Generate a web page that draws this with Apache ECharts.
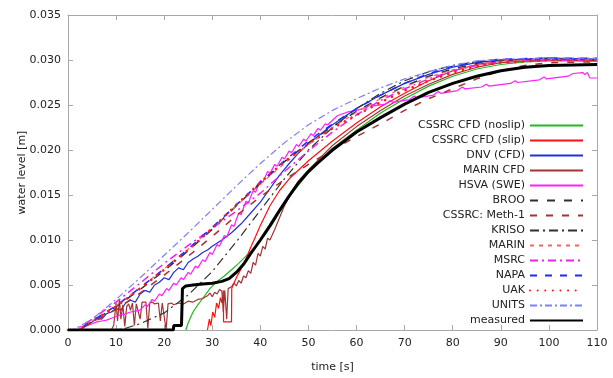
<!DOCTYPE html>
<html>
<head>
<meta charset="utf-8">
<script src="https://cdn.jsdelivr.net/npm/echarts@6/dist/echarts.min.js"></script>
<style>html,body{margin:0;padding:0;background:#fff}#c{width:613px;height:378px}</style>
</head>
<body>
<div id="c"></div>
<script>
// ---- data (time [s], water level [m]) ----
const xTicks = [0, 10, 20, 30, 40, 50, 60, 70, 80, 90, 100, 110];
const yTicks = [0, 0.005, 0.010, 0.015, 0.020, 0.025, 0.030, 0.035];

const cssrcNoslip = [[24.5,0],[25,0.0008],[26,0.0020],[27,0.0028],[28,0.0035],[29.5,0.0046],[31,0.0054],[32.5,0.0060],[34,0.0067],[35.5,0.0074],[37,0.0082],[39,0.0093],[41,0.0106],[43,0.0122],[45,0.0140],[47,0.0155],[50,0.0175],[55,0.0202],[60,0.0222],[65,0.0241],[70,0.0257],[75,0.0271],[80,0.0282],[85,0.0290],[90,0.0295],[95,0.0298],[100,0.0299],[110,0.0299]];

const cssrcSlip = [[29,0],[29.4,0.0012],[29.7,0.0005],[30.1,0.0020],[30.5,0.0014],[30.9,0.0030],[31.3,0.0024],[31.7,0.0036],[32,0.0030],[32.3,0.0044],[32.35,0.0009],[34.0,0.0009],[34.05,0.0046],[35,0.0058],[36,0.0068],[37,0.0079],[38,0.0092],[39,0.0104],[40,0.0116],[42,0.0138],[44,0.0155],[46,0.0168],[48,0.0178],[50,0.0188],[55,0.0210],[60,0.0230],[65,0.0248],[70,0.0263],[75,0.0277],[80,0.0288],[85,0.0295],[90,0.0299],[95,0.0301],[100,0.0302],[105,0.0301],[110,0.0300]];

const dnvCfd = [[0,0],[2.5,0],[4,0.0006],[5,0.0009],[6,0.0013],[7,0.0012],[8,0.0018],[9,0.0020],[10,0.0024],[11,0.0022],[12,0.0030],[13,0.0033],[14,0.0031],[15,0.0040],[16,0.0044],[17,0.0042],[18,0.0050],[19,0.0053],[20,0.0058],[21,0.0056],[22,0.0064],[23,0.0069],[24,0.0067],[25,0.0075],[26,0.0079],[27,0.0082],[28,0.0086],[29,0.0089],[30,0.0093],[32,0.0100],[34,0.0108],[36,0.0118],[38,0.0130],[40,0.0142],[42,0.0157],[44,0.0172],[46,0.0185],[48,0.0197],[50,0.0207],[55,0.0228],[60,0.0246],[65,0.0261],[70,0.0274],[75,0.0284],[80,0.0292],[85,0.0297],[90,0.0300],[100,0.0302],[110,0.0301]];

const marinCfd = [[0,0],[9,0],[9.5,0.0005],[10,0.0030],[10.3,0.0010],[10.7,0.0034],[11,0.0012],[11.4,0.0028],[11.8,0.0004],[12.2,0.0026],[12.6,0.0029],[13,0.0022],[13.4,0.0030],[13.8,0.0005],[14.2,0.0029],[14.6,0.0030],[15,0.0012],[15.4,0.0031],[15.8,0.0030],[16.2,0.0031],[16.6,0.0002],[17,0.0030],[17.5,0.0031],[18,0.0029],[18.4,0.0030],[18.8,0.0030],[19.2,0.0010],[19.6,0.0030],[20,0.0029],[20.4,0],[20.8,0.0029],[21.5,0.0030],[22,0.0028],[23,0.0030],[24,0.0029],[25,0.0032],[26,0.0031],[27,0.0034],[28,0.0035],[29,0.0038],[29.5,0.0041],[30,0.0037],[30.5,0.0042],[31,0.0040],[31.5,0.0045],[32,0.0043],[32.3,0.0020],[32.6,0.0044],[33,0.0012],[33.3,0.0046],[34,0.0048],[34.5,0.0052],[35,0.0049],[35.5,0.0055],[36,0.0052],[36.5,0.0060],[37,0.0058],[37.5,0.0066],[38,0.0063],[38.5,0.0075],[39,0.0072],[39.5,0.0085],[40,0.0082],[40.5,0.0093],[41,0.0090],[41.5,0.0102],[42,0.0100],[43,0.0112],[44,0.0125],[45,0.0138],[46,0.0148],[47,0.0158],[48,0.0166],[50,0.0178],[55,0.0205],[60,0.0226],[65,0.0244],[70,0.0260],[75,0.0273],[80,0.0284],[85,0.0292],[90,0.0297],[95,0.0299],[100,0.0300],[110,0.0299]];

const hsvaSwe = [[0,0],[2,0],[3,0.0002],[4,0.0005],[5,0.0007],[6,0.0009],[7,0.0010],[8,0.0011],[9,0.0013],[10,0.0015],[11,0.0017],[12,0.0018],[13,0.0020],[14,0.0021],[15,0.0022],[16,0.0028],[16.5,0.0026],[17.5,0.0034],[18,0.0032],[19,0.0040],[19.5,0.0038],[20.5,0.0046],[21,0.0044],[22,0.0052],[22.5,0.0050],[23.5,0.0058],[24,0.0056],[25,0.0064],[25.5,0.0062],[26.5,0.0071],[27,0.0069],[28,0.0078],[28.5,0.0076],[29.5,0.0086],[30,0.0084],[31,0.0095],[31.5,0.0093],[32.5,0.0105],[33,0.0103],[34,0.0117],[34.5,0.0115],[35.5,0.0130],[36,0.0128],[37,0.0143],[37.5,0.0141],[38.5,0.0155],[39,0.0153],[40,0.0166],[40.5,0.0164],[41.5,0.0176],[42,0.0174],[43,0.0184],[43.5,0.0182],[44.5,0.0192],[45,0.0190],[46,0.0199],[46.5,0.0197],[47.5,0.0206],[48,0.0204],[49,0.0212],[49.5,0.0210],[50.5,0.0218],[51,0.0216],[52,0.0224],[52.5,0.0222],[53.5,0.0229],[54,0.0228],[55,0.0233],[56,0.0238],[57,0.0240],[58,0.0242],[60,0.0244],[62,0.0247],[63,0.0251],[63.5,0.0249],[66,0.0251],[67,0.0255],[67.5,0.0253],[71,0.0256],[72,0.0260],[72.5,0.0258],[76,0.0261],[77,0.0265],[77.5,0.0263],[81,0.0266],[82,0.0270],[82.5,0.0268],[86,0.0270],[87,0.0273],[87.5,0.0271],[92,0.0274],[93,0.0277],[93.5,0.0275],[98,0.0278],[99,0.0281],[99.5,0.0279],[104,0.0282],[105,0.0285],[107,0.0286],[107.5,0.0284],[108,0.0286],[108.5,0.0280],[110,0.0280]];

const broo = [[0,0],[2,0],[5,0.0009],[10,0.0026],[15,0.0045],[20,0.0066],[25,0.0088],[30,0.0112],[35,0.0138],[40,0.0163],[45,0.0187],[50,0.0208],[55,0.0226],[60,0.0243],[65,0.0258],[70,0.0271],[75,0.0282],[80,0.0290],[85,0.0296],[90,0.0299],[100,0.0301],[110,0.0300]];

const cssrcMeth1 = [[0,0],[2,0],[5,0.0008],[10,0.0023],[15,0.0041],[20,0.0061],[25,0.0082],[30,0.0104],[35,0.0127],[40,0.0148],[45,0.0167],[50,0.0184],[55,0.0200],[60,0.0215],[65,0.0229],[70,0.0244],[75,0.0257],[80,0.0268],[85,0.0279],[90,0.0288],[95,0.0294],[100,0.0297],[110,0.0298]];

const kriso = [[0,0],[10,0],[12,0.0002],[15,0.0007],[20,0.0019],[25,0.0039],[30,0.0065],[35,0.0098],[40,0.0133],[45,0.0168],[50,0.0200],[55,0.0225],[60,0.0246],[65,0.0263],[70,0.0277],[75,0.0287],[80,0.0294],[85,0.0298],[90,0.0300],[100,0.0301],[110,0.0300]];

const marin = [[0,0],[2,0],[5,0.0010],[10,0.0027],[15,0.0047],[20,0.0068],[25,0.0090],[30,0.0113],[35,0.0138],[40,0.0162],[45,0.0185],[50,0.0206],[55,0.0225],[60,0.0242],[65,0.0257],[70,0.0270],[75,0.0281],[80,0.0289],[85,0.0295],[90,0.0299],[100,0.0301],[110,0.0300]];

const msrc = [[0,0],[1.5,0],[5,0.0012],[10,0.0031],[15,0.0052],[20,0.0074],[25,0.0094],[30,0.0113],[35,0.0132],[40,0.0152],[45,0.0176],[50,0.0199],[55,0.0220],[60,0.0239],[65,0.0255],[70,0.0268],[75,0.0279],[80,0.0288],[85,0.0294],[90,0.0298],[100,0.0300],[110,0.0299]];

const napa = [[0,0],[2,0],[5,0.0010],[10,0.0027],[15,0.0047],[20,0.0068],[25,0.0090],[30,0.0114],[35,0.0139],[40,0.0164],[45,0.0188],[50,0.0210],[55,0.0229],[60,0.0246],[65,0.0261],[70,0.0274],[75,0.0285],[80,0.0293],[85,0.0298],[90,0.0301],[100,0.0302],[110,0.0302]];

const uak = [[0,0],[2,0],[5,0.0009],[10,0.0026],[15,0.0046],[20,0.0067],[25,0.0089],[30,0.0113],[35,0.0139],[40,0.0164],[45,0.0187],[50,0.0207],[55,0.0224],[60,0.0239],[65,0.0253],[70,0.0266],[75,0.0277],[80,0.0286],[85,0.0293],[90,0.0297],[100,0.0300],[110,0.0300]];

const units = [[0,0],[1,0],[5,0.0012],[10,0.0034],[15,0.0058],[20,0.0083],[25,0.0108],[30,0.0134],[35,0.0160],[40,0.0185],[45,0.0208],[50,0.0228],[55,0.0244],[60,0.0257],[65,0.0269],[70,0.0279],[75,0.0287],[80,0.0294],[85,0.0299],[90,0.0301],[100,0.0302],[110,0.0302]];

const measured = [[0,0],[21.9,0],[22.0,0.0005],[23.6,0.0005],[23.8,0.0046],[24.5,0.0049],[26,0.0050],[28,0.0051],[30,0.0052],[32,0.0054],[33.5,0.0057],[35,0.0064],[36.5,0.0073],[38,0.0085],[40,0.0100],[42,0.0116],[44,0.0133],[46,0.0149],[48,0.0164],[50,0.0176],[52,0.0186],[55,0.0200],[60,0.0220],[65,0.0236],[70,0.0251],[75,0.0264],[80,0.0274],[85,0.0282],[90,0.0288],[95,0.0292],[100,0.0294],[110,0.0295]];

// ---- series descriptions ----
const seriesDefs = [
  {name: 'CSSRC CFD (noslip)', data: cssrcNoslip, color: '#22b822', width: 1.2, type: 'solid'},
  {name: 'CSSRC CFD (slip)', data: cssrcSlip, color: '#ff1010', width: 1.2, type: 'solid'},
  {name: 'DNV (CFD)', data: dnvCfd, color: '#2030e0', width: 1.2, type: 'solid'},
  {name: 'MARIN CFD', data: marinCfd, color: '#a83232', width: 1.2, type: 'solid'},
  {name: 'HSVA (SWE)', data: hsvaSwe, color: '#ff20ff', width: 1.2, type: 'solid'},
  {name: 'BROO', data: broo, color: '#303030', width: 1.5, type: [8, 9]},
  {name: 'CSSRC: Meth-1', data: cssrcMeth1, color: '#a83232', width: 1.5, type: [7, 9]},
  {name: 'KRISO', data: kriso, color: '#303030', width: 1.2, type: [9, 4, 2, 4]},
  {name: 'MARIN', data: marin, color: '#ff6060', width: 1.2, type: [4, 5]},
  {name: 'MSRC', data: msrc, color: '#ee22ee', width: 1.5, type: [8, 4, 2, 4]},
  {name: 'NAPA', data: napa, color: '#1a2cff', width: 1.5, type: [7, 8]},
  {name: 'UAK', data: uak, color: '#ff1a1a', width: 2.6, type: [0.1, 7.5], cap: 'round'},
  {name: 'UNITS', data: units, color: '#8080ff', width: 1.2, type: [7, 3, 2, 3]},
  {name: 'measured', data: measured, color: '#000000', width: 3, type: 'solid'}
];

const axisGray = '#a8a8a8';
const font = 'DejaVu Sans';

function mkX(pos, show) {
  return {
    type: 'value', position: pos, min: xTicks[0], max: xTicks[xTicks.length - 1], interval: 10,
    axisLine: {show: true, onZero: false, lineStyle: {color: axisGray, width: 1}},
    axisTick: {show: true, inside: true, length: 5, lineStyle: {color: axisGray}},
    axisLabel: {show: show, margin: 8, color: '#222', fontFamily: font, fontSize: 11},
    splitLine: {show: false},
    name: show ? 'time [s]' : '', nameLocation: 'middle', nameGap: 32, nameMoveOverlap: false,
    nameTextStyle: {color: '#222', fontFamily: font, fontSize: 11}
  };
}
function mkY(pos, show) {
  return {
    type: 'value', position: pos, min: yTicks[0], max: yTicks[yTicks.length - 1], interval: 0.005,
    axisLine: {show: true, onZero: false, lineStyle: {color: axisGray, width: 1}},
    axisTick: {show: true, inside: true, length: 5, lineStyle: {color: axisGray}},
    axisLabel: {show: show, margin: 7, color: '#222', fontFamily: font, fontSize: 11,
      formatter: v => v.toFixed(3)},
    splitLine: {show: false},
    name: show ? 'water level [m]' : '', nameLocation: 'middle', nameGap: 40, nameMoveOverlap: false,
    nameTextStyle: {color: '#222', fontFamily: font, fontSize: 11}
  };
}

const chart = echarts.init(document.getElementById('c'), null, {renderer: 'canvas'});
chart.setOption({
  animation: false,
  backgroundColor: '#ffffff',
  grid: {left: 68, right: 16, top: 15, bottom: 46},
  xAxis: [mkX('bottom', true), mkX('top', false)],
  yAxis: [mkY('left', true), mkY('right', false)],
  legend: {
    orient: 'vertical', right: 24, top: 115, align: 'right',
    itemWidth: 53, itemHeight: 10, itemGap: 4,
    itemStyle: {opacity: 0},
    textStyle: {color: '#222', fontFamily: font, fontSize: 11},
    data: seriesDefs.map(s => s.name)
  },
  series: seriesDefs.map((s, i) => ({
    name: s.name, type: 'line', data: s.data, xAxisIndex: 0, yAxisIndex: 0,
    symbol: 'none', smooth: false, z: i === seriesDefs.length - 1 ? 5 : 2,
    lineStyle: {color: s.color, width: s.width, type: s.type, cap: s.cap || 'butt'},
    itemStyle: {color: s.color},
    emphasis: {disabled: true}
  }))
});
</script>
</body>
</html>
